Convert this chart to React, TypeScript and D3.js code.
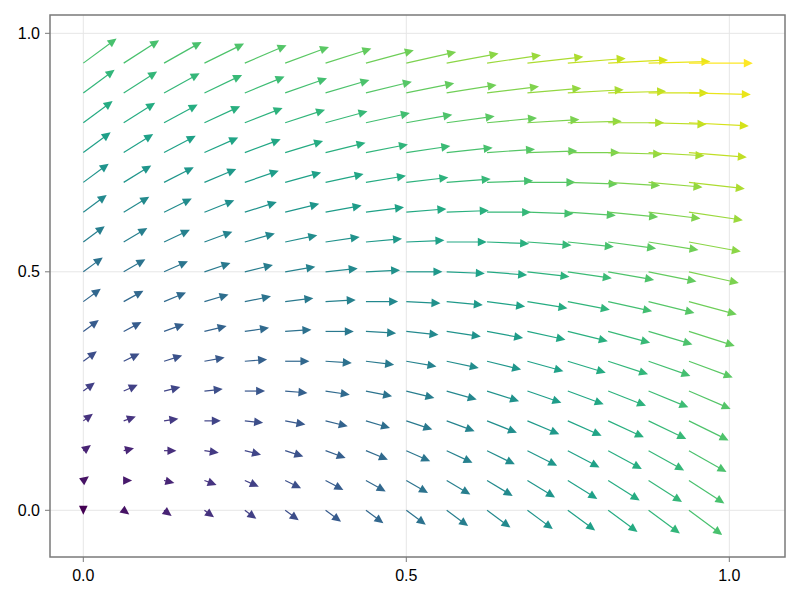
import React from "react";
import * as d3 from "d3";

const xs = [0, 0.0625, 0.125, 0.1875, 0.25, 0.3125, 0.375, 0.4375, 0.5, 0.5625, 0.625, 0.6875, 0.75, 0.8125, 0.875, 0.9375];
const ys = [0, 0.0625, 0.125, 0.1875, 0.25, 0.3125, 0.375, 0.4375, 0.5, 0.5625, 0.625, 0.6875, 0.75, 0.8125, 0.875, 0.9375];

// U[j][i]: horizontal component at (xs[i], ys[j])
const U = [
  [0, 0.0625, 0.125, 0.1875, 0.25, 0.3125, 0.375, 0.4375, 0.5, 0.5625, 0.625, 0.6875, 0.75, 0.8125, 0.875, 0.9375],
  [0.0625, 0.125, 0.1875, 0.25, 0.3125, 0.375, 0.4375, 0.5, 0.5625, 0.625, 0.6875, 0.75, 0.8125, 0.875, 0.9375, 1],
  [0.125, 0.1875, 0.25, 0.3125, 0.375, 0.4375, 0.5, 0.5625, 0.625, 0.6875, 0.75, 0.8125, 0.875, 0.9375, 1, 1.0625],
  [0.1875, 0.25, 0.3125, 0.375, 0.4375, 0.5, 0.5625, 0.625, 0.6875, 0.75, 0.8125, 0.875, 0.9375, 1, 1.0625, 1.125],
  [0.25, 0.3125, 0.375, 0.4375, 0.5, 0.5625, 0.625, 0.6875, 0.75, 0.8125, 0.875, 0.9375, 1, 1.0625, 1.125, 1.1875],
  [0.3125, 0.375, 0.4375, 0.5, 0.5625, 0.625, 0.6875, 0.75, 0.8125, 0.875, 0.9375, 1, 1.0625, 1.125, 1.1875, 1.25],
  [0.375, 0.4375, 0.5, 0.5625, 0.625, 0.6875, 0.75, 0.8125, 0.875, 0.9375, 1, 1.0625, 1.125, 1.1875, 1.25, 1.3125],
  [0.4375, 0.5, 0.5625, 0.625, 0.6875, 0.75, 0.8125, 0.875, 0.9375, 1, 1.0625, 1.125, 1.1875, 1.25, 1.3125, 1.375],
  [0.5, 0.5625, 0.625, 0.6875, 0.75, 0.8125, 0.875, 0.9375, 1, 1.0625, 1.125, 1.1875, 1.25, 1.3125, 1.375, 1.4375],
  [0.5625, 0.625, 0.6875, 0.75, 0.8125, 0.875, 0.9375, 1, 1.0625, 1.125, 1.1875, 1.25, 1.3125, 1.375, 1.4375, 1.5],
  [0.625, 0.6875, 0.75, 0.8125, 0.875, 0.9375, 1, 1.0625, 1.125, 1.1875, 1.25, 1.3125, 1.375, 1.4375, 1.5, 1.5625],
  [0.6875, 0.75, 0.8125, 0.875, 0.9375, 1, 1.0625, 1.125, 1.1875, 1.25, 1.3125, 1.375, 1.4375, 1.5, 1.5625, 1.625],
  [0.75, 0.8125, 0.875, 0.9375, 1, 1.0625, 1.125, 1.1875, 1.25, 1.3125, 1.375, 1.4375, 1.5, 1.5625, 1.625, 1.6875],
  [0.8125, 0.875, 0.9375, 1, 1.0625, 1.125, 1.1875, 1.25, 1.3125, 1.375, 1.4375, 1.5, 1.5625, 1.625, 1.6875, 1.75],
  [0.875, 0.9375, 1, 1.0625, 1.125, 1.1875, 1.25, 1.3125, 1.375, 1.4375, 1.5, 1.5625, 1.625, 1.6875, 1.75, 1.8125],
  [0.9375, 1, 1.0625, 1.125, 1.1875, 1.25, 1.3125, 1.375, 1.4375, 1.5, 1.5625, 1.625, 1.6875, 1.75, 1.8125, 1.875],
];

// V[j][i]: vertical component at (xs[i], ys[j])
const V = [
  [0, -0.0625, -0.125, -0.1875, -0.25, -0.3125, -0.375, -0.4375, -0.5, -0.5625, -0.625, -0.6875, -0.75, -0.8125, -0.875, -0.9375],
  [0.0625, 0, -0.0625, -0.125, -0.1875, -0.25, -0.3125, -0.375, -0.4375, -0.5, -0.5625, -0.625, -0.6875, -0.75, -0.8125, -0.875],
  [0.125, 0.0625, 0, -0.0625, -0.125, -0.1875, -0.25, -0.3125, -0.375, -0.4375, -0.5, -0.5625, -0.625, -0.6875, -0.75, -0.8125],
  [0.1875, 0.125, 0.0625, 0, -0.0625, -0.125, -0.1875, -0.25, -0.3125, -0.375, -0.4375, -0.5, -0.5625, -0.625, -0.6875, -0.75],
  [0.25, 0.1875, 0.125, 0.0625, 0, -0.0625, -0.125, -0.1875, -0.25, -0.3125, -0.375, -0.4375, -0.5, -0.5625, -0.625, -0.6875],
  [0.3125, 0.25, 0.1875, 0.125, 0.0625, 0, -0.0625, -0.125, -0.1875, -0.25, -0.3125, -0.375, -0.4375, -0.5, -0.5625, -0.625],
  [0.375, 0.3125, 0.25, 0.1875, 0.125, 0.0625, 0, -0.0625, -0.125, -0.1875, -0.25, -0.3125, -0.375, -0.4375, -0.5, -0.5625],
  [0.4375, 0.375, 0.3125, 0.25, 0.1875, 0.125, 0.0625, 0, -0.0625, -0.125, -0.1875, -0.25, -0.3125, -0.375, -0.4375, -0.5],
  [0.5, 0.4375, 0.375, 0.3125, 0.25, 0.1875, 0.125, 0.0625, 0, -0.0625, -0.125, -0.1875, -0.25, -0.3125, -0.375, -0.4375],
  [0.5625, 0.5, 0.4375, 0.375, 0.3125, 0.25, 0.1875, 0.125, 0.0625, 0, -0.0625, -0.125, -0.1875, -0.25, -0.3125, -0.375],
  [0.625, 0.5625, 0.5, 0.4375, 0.375, 0.3125, 0.25, 0.1875, 0.125, 0.0625, 0, -0.0625, -0.125, -0.1875, -0.25, -0.3125],
  [0.6875, 0.625, 0.5625, 0.5, 0.4375, 0.375, 0.3125, 0.25, 0.1875, 0.125, 0.0625, 0, -0.0625, -0.125, -0.1875, -0.25],
  [0.75, 0.6875, 0.625, 0.5625, 0.5, 0.4375, 0.375, 0.3125, 0.25, 0.1875, 0.125, 0.0625, 0, -0.0625, -0.125, -0.1875],
  [0.8125, 0.75, 0.6875, 0.625, 0.5625, 0.5, 0.4375, 0.375, 0.3125, 0.25, 0.1875, 0.125, 0.0625, 0, -0.0625, -0.125],
  [0.875, 0.8125, 0.75, 0.6875, 0.625, 0.5625, 0.5, 0.4375, 0.375, 0.3125, 0.25, 0.1875, 0.125, 0.0625, 0, -0.0625],
  [0.9375, 0.875, 0.8125, 0.75, 0.6875, 0.625, 0.5625, 0.5, 0.4375, 0.375, 0.3125, 0.25, 0.1875, 0.125, 0.0625, 0],
];

const xTicks = [0, 0.5, 1];
const yTicks = [0, 0.5, 1];
const xTickLabels = ["0.0", "0.5", "1.0"];
const yTickLabels = ["0.0", "0.5", "1.0"];

const W = 800;
const H = 600;
const LEFT = 50;
const RIGHT = 785;
const TOP = 15;
const BOTTOM = 557;
const LENGTH_SCALE = 0.049;

export default function App() {
  const x = d3.scaleLinear().domain([-0.05155, 1.0862]).range([LEFT, RIGHT]);
  const y = d3.scaleLinear().domain([-0.0979, 1.0384]).range([BOTTOM, TOP]);

  const mags: number[] = [];
  U.forEach((row, j) => row.forEach((u, i) => mags.push(Math.hypot(u, V[j][i]))));
  const color = d3
    .scaleSequential(d3.interpolateViridis)
    .domain([d3.min(mags) as number, d3.max(mags) as number]);

  const arrows: any[] = [];
  ys.forEach((yv, j) => {
    xs.forEach((xv, i) => {
      const u = U[j][i];
      const v = V[j][i];
      const px = x(xv);
      const py = y(yv);
      const ex = x(xv + LENGTH_SCALE * u);
      const ey = y(yv + LENGTH_SCALE * v);
      let dx = ex - px;
      let dy = ey - py;
      const len = Math.hypot(dx, dy);
      let ux = 0;
      let uy = 1;
      if (len > 1e-9) {
        ux = dx / len;
        uy = dy / len;
      }
      const tipF = 4.5;
      const backF = 4.5;
      const hw = 4.3;
      const tx = ex + ux * tipF;
      const ty = ey + uy * tipF;
      const bx = ex - ux * backF;
      const by = ey - uy * backF;
      const nx = -uy;
      const ny = ux;
      const head = `M${tx},${ty}L${bx + nx * hw},${by + ny * hw}L${bx - nx * hw},${by - ny * hw}Z`;
      const c = color(Math.hypot(u, v));
      arrows.push({ key: `${i}-${j}`, px, py, ex, ey, head, c });
    });
  });

  const font = "'Liberation Sans', Arial, Helvetica, sans-serif";
  const gridColor = "#e6e6e6";
  const spine = "#7a7a7a";

  return (
    <svg
      width={W}
      height={H}
      style={{ position: "fixed", left: 0, top: 0, background: "#fff" }}
    >
      <rect x={0} y={0} width={W} height={H} fill="#fff" />
      {xTicks.map((t) => (
        <line key={"gx" + t} x1={x(t)} x2={x(t)} y1={TOP} y2={BOTTOM} stroke={gridColor} strokeWidth={1} />
      ))}
      {yTicks.map((t) => (
        <line key={"gy" + t} x1={LEFT} x2={RIGHT} y1={y(t)} y2={y(t)} stroke={gridColor} strokeWidth={1} />
      ))}
      {arrows.map((a) => (
        <g key={a.key}>
          <line x1={a.px} y1={a.py} x2={a.ex} y2={a.ey} stroke={a.c} strokeWidth={1.2} />
          <path d={a.head} fill={a.c} />
        </g>
      ))}
      <rect
        x={LEFT}
        y={TOP}
        width={RIGHT - LEFT}
        height={BOTTOM - TOP}
        fill="none"
        stroke={spine}
        strokeWidth={1.5}
      />
      {xTicks.map((t, k) => (
        <g key={"tx" + t}>
          <line x1={x(t)} x2={x(t)} y1={BOTTOM} y2={BOTTOM + 5} stroke={spine} strokeWidth={1} />
          <text x={x(t)} y={581} textAnchor="middle" fontFamily={font} fontSize={16} fill="#000">
            {xTickLabels[k]}
          </text>
        </g>
      ))}
      {yTicks.map((t, k) => (
        <g key={"ty" + t}>
          <line x1={LEFT - 5} x2={LEFT} y1={y(t)} y2={y(t)} stroke={spine} strokeWidth={1} />
          <text x={40} y={y(t)} dy="0.35em" textAnchor="end" fontFamily={font} fontSize={16} fill="#000">
            {yTickLabels[k]}
          </text>
        </g>
      ))}
    </svg>
  );
}
